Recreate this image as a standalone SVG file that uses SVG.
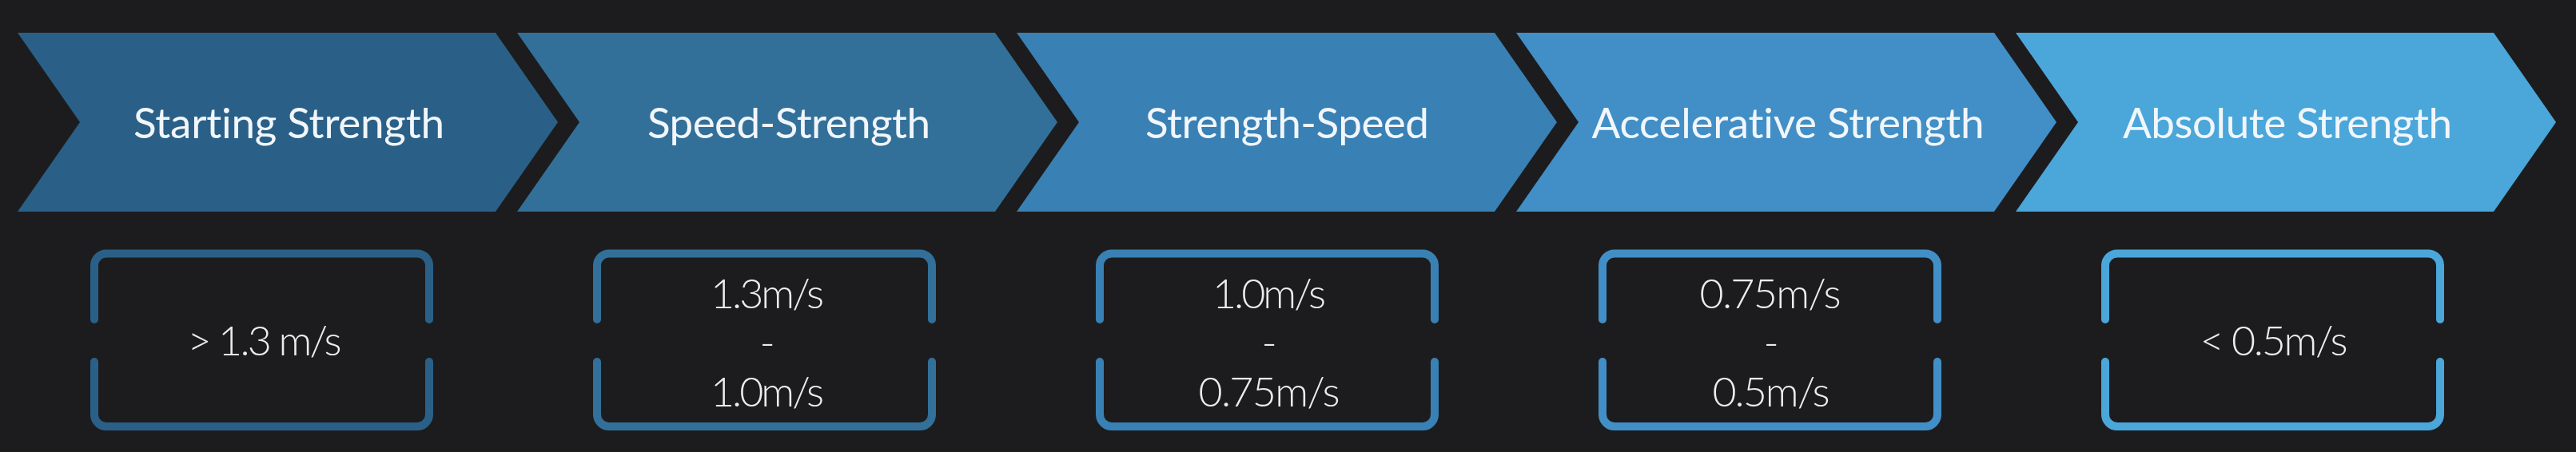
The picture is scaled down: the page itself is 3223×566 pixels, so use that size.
<svg xmlns="http://www.w3.org/2000/svg" width="3223" height="566" viewBox="0 0 3223 566">
<style>
.bg{fill:#1c1c1e}
text{font-variant-ligatures:none}
.title{font-family:Lato,"Liberation Sans",sans-serif;font-size:53px;font-weight:400;fill:#f2f6fa;text-anchor:middle}
.val{font-family:Lato,"Liberation Sans",sans-serif;font-size:52px;font-weight:300;fill:#ececec;text-anchor:middle}
.frame{fill:none;stroke-width:10;stroke-linecap:round;stroke-linejoin:round}
.c1{fill:#2a6087}.s1{stroke:#2a6087}
.c2{fill:#327099}.s2{stroke:#327099}
.c3{fill:#3980b4}.s3{stroke:#3980b4}
.c4{fill:#418fc6}.s4{stroke:#418fc6}
.c5{fill:#4ba6da}.s5{stroke:#4ba6da}
</style>
<defs>
<path id="chev" d="M0,41 H598 L676,153 L598,265 H0 L78,153 Z"/>
<path id="box" d="M0,400 V332.5 A15,15 0 0 1 15,317.5 H404 A15,15 0 0 1 419,332.5 V400 M0,453 V519 A15,15 0 0 0 15,534 H404 A15,15 0 0 0 419,519 V453"/>
</defs>
<rect class="bg" x="0" y="0" width="3223" height="566"/>
<g id="connectors"></g>
<g id="node1">
<use href="#chev" x="22" class="c1"/>
<text class="title" x="361.5" y="173" textLength="389">Starting Strength</text>
<use href="#box" x="118" class="frame s1"/>
<text class="val" x="331" y="445" textLength="193">&gt; 1.3 m/s</text>
</g>
<g id="node2">
<use href="#chev" x="647" class="c2"/>
<text class="title" x="987" y="173" textLength="354">Speed-Strength</text>
<use href="#box" x="747" class="frame s2"/>
<text class="val" x="960" y="386" textLength="142">1.3m/s</text>
<text class="val" x="960" y="447">-</text>
<text class="val" x="960" y="509" textLength="142">1.0m/s</text>
</g>
<g id="node3">
<use href="#chev" x="1272" class="c3"/>
<text class="title" x="1610.5" y="173" textLength="355">Strength-Speed</text>
<use href="#box" x="1376" class="frame s3"/>
<text class="val" x="1588" y="386" textLength="142">1.0m/s</text>
<text class="val" x="1588" y="447">-</text>
<text class="val" x="1588" y="509" textLength="177">0.75m/s</text>
</g>
<g id="node4">
<use href="#chev" x="1897" class="c4"/>
<text class="title" x="2237" y="173" textLength="491">Accelerative Strength</text>
<use href="#box" x="2005" class="frame s4"/>
<text class="val" x="2215" y="386" textLength="177">0.75m/s</text>
<text class="val" x="2216" y="447">-</text>
<text class="val" x="2216" y="509" textLength="147">0.5m/s</text>
</g>
<g id="node5">
<use href="#chev" x="2522" class="c5"/>
<text class="title" x="2862" y="173" textLength="412">Absolute Strength</text>
<use href="#box" x="2634" class="frame s5"/>
<text class="val" x="2845" y="445" textLength="185">&lt; 0.5m/s</text>
</g>
</svg>
